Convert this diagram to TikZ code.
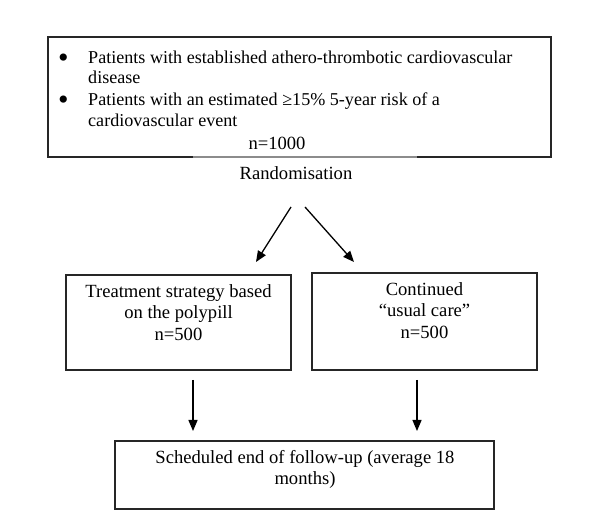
\documentclass[tikz,border=0pt]{standalone}
\usepackage{fontspec}
\setmainfont{Liberation Serif}
\usetikzlibrary{arrows.meta}
\begin{document}
\begin{tikzpicture}[x=1pt,y=-1pt,
  box/.style={draw=black!85, line width=1.4pt, inner sep=0pt},
  txt/.style={inner sep=0pt, anchor=base, font=\fontsize{18.6}{22}\selectfont},
  ltxt/.style={txt, anchor=base west, font=\fontsize{18.1}{21}\selectfont},
  bul/.style={inner sep=0pt, anchor=center, font=\fontsize{30}{30}\selectfont},
  arr/.style={line width=1.3pt, -{Triangle[length=11pt,width=9pt]}}]
\useasboundingbox (0,0) rectangle (600,526);
% top box
\node[box, minimum width=503pt, minimum height=120pt] (top) at (299.5,97) {};
\coordinate (gapL) at (193,157);
\coordinate (gapR) at (417,157);
\draw[white, line width=1.8pt] (gapL) -- (gapR);
\draw[black!45, line width=1.2pt] (gapL) -- (gapR);
\node[bul] (b1) at (63.5,60.5) {•};
\node[ltxt] (t1) at (88,63.3) {Patients with established athero-thrombotic cardiovascular};
\node[ltxt] (t2) at (88,83.5) {disease};
\node[bul] (b2) at (63.5,103) {•};
\node[ltxt] (t3) at (88,106) {Patients with an estimated ≥15\% 5-year risk of a};
\node[ltxt] (t4) at (88,126.7) {cardiovascular event};
\node[txt] (n1) at (277,149.3) {n=1000};
\node[txt] (rand) at (296,180) {Randomisation};
% arrows from randomisation
\coordinate (r1s) at (291,207);
\coordinate (r1e) at (256,262);
\coordinate (r2s) at (305,207);
\coordinate (r2e) at (354,262);
\draw[arr] (r1s) -- (r1e);
\draw[arr] (r2s) -- (r2e);
% left box
\node[box, minimum width=225pt, minimum height=95pt] (lbox) at (178.5,322.5) {};
\node[txt] (l1) at (178.5,297.7) {Treatment strategy based};
\node[txt] (l2) at (178.5,318.5) {on the polypill};
\node[txt] (l3) at (178.5,340.5) {n=500};
% right box
\node[box, minimum width=225pt, minimum height=97pt] (rbox) at (424.5,321.5) {};
\node[txt] (c1) at (424.5,295.5) {Continued};
\node[txt] (c2) at (424.5,317) {“usual care”};
\node[txt] (c3) at (424.5,338.5) {n=500};
% vertical arrows
\coordinate (v1s) at (193,380);
\coordinate (v1e) at (193,431);
\coordinate (v2s) at (417,380);
\coordinate (v2e) at (417,431);
\draw[arr] (v1s) -- (v1e);
\draw[arr] (v2s) -- (v2e);
% bottom box
\node[box, minimum width=379pt, minimum height=68pt] (bbox) at (304.5,475) {};
\node[txt] (e1) at (305,464) {Scheduled end of follow-up (average 18};
\node[txt] (e2) at (305,485) {months)};
\end{tikzpicture}
\end{document}
